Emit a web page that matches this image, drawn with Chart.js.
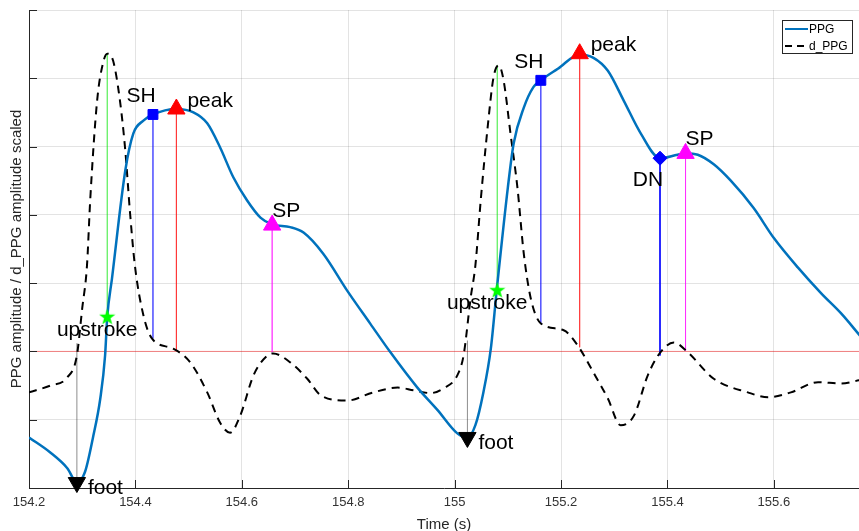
<!DOCTYPE html>
<html>
<head>
<meta charset="utf-8">
<script src="https://cdn.jsdelivr.net/npm/chart.js@4/dist/chart.umd.min.js"></script>
<style>
  html, body { margin: 0; padding: 0; background: #fff; overflow: hidden; }
  #wrap { width: 859px; height: 531px; position: relative; }
</style>
</head>
<body>
<div id="wrap"><canvas id="ppgChart"></canvas></div>
<script>
// Axis limits and ticks
const xMin = 154.2, xMax = 155.76, xStep = 0.2;
const yMin = -2, yMax = 5, yStep = 1;

// PPG signal
const ppgTime = [154.200, 154.240, 154.272, 154.290, 154.305, 154.320, 154.334, 154.343, 154.347, 154.356,
    154.381, 154.396, 154.415, 154.433, 154.477, 154.509, 154.535, 154.559, 154.584, 154.610,
    154.635, 154.657, 154.691, 154.716, 154.753, 154.798, 154.842, 154.879, 154.930, 154.968,
    155.005, 155.024, 155.039, 155.054, 155.068, 155.079, 155.100, 155.111, 155.130, 155.148,
    155.162, 155.194, 155.235, 155.261, 155.288, 155.318, 155.350, 155.386, 155.419, 155.434,
    155.457, 155.487, 155.519, 155.562, 155.600, 155.645, 155.689, 155.726, 155.762];
const ppgAmp = [-1.26, -1.48, -1.71, -1.92, -1.77, -1.27, -0.69, -0.06, 0.50, 1.07,
    2.65, 3.19, 3.38, 3.47, 3.55, 3.50, 3.34, 2.99, 2.55, 2.21,
    1.96, 1.86, 1.82, 1.74, 1.43, 0.89, 0.40, -0.01, -0.53, -0.86,
    -1.20, -1.26, -1.08, -0.60, 0.04, 0.89, 2.40, 3.05, 3.57, 3.87,
    3.97, 4.14, 4.35, 4.30, 4.11, 3.67, 3.19, 2.83, 2.88, 2.90,
    2.88, 2.74, 2.50, 2.10, 1.66, 1.23, 0.85, 0.56, 0.23];

// First derivative, scaled
const dppgTime = [154.200, 154.240, 154.272, 154.290, 154.300, 154.309, 154.315, 154.328, 154.339, 154.347,
    154.358, 154.371, 154.381, 154.390, 154.399, 154.415, 154.431, 154.471, 154.503, 154.535,
    154.559, 154.578, 154.597, 154.622, 154.648, 154.659, 154.691, 154.723, 154.748, 154.798,
    154.847, 154.893, 154.923, 154.955, 154.979, 155.005, 155.017, 155.030, 155.039, 155.049,
    155.062, 155.073, 155.083, 155.092, 155.105, 155.118, 155.130, 155.143, 155.162, 155.205,
    155.231, 155.261, 155.288, 155.312, 155.337, 155.363, 155.387, 155.412, 155.438, 155.487,
    155.551, 155.589, 155.632, 155.683, 155.726, 155.762];
const dppgAmp = [-0.60, -0.50, -0.38, -0.06, 0.63, 1.26, 2.21, 3.67, 4.22, 4.36,
    4.26, 3.67, 2.94, 2.02, 1.26, 0.53, 0.19, 0.04, -0.16, -0.60,
    -1.04, -1.19, -0.94, -0.35, -0.06, -0.03, -0.16, -0.40, -0.64, -0.72,
    -0.60, -0.53, -0.57, -0.61, -0.54, -0.35, -0.05, 0.78, 1.26, 2.21,
    3.28, 4.01, 4.19, 3.97, 3.19, 2.40, 1.43, 0.78, 0.41, 0.31,
    0.09, -0.31, -0.69, -1.08, -0.94, -0.35, -0.01, 0.13, -0.01, -0.40,
    -0.60, -0.67, -0.60, -0.45, -0.47, -0.42];

// Fiducial points: time, PPG value, d_PPG value at the end of the stem
const footT = [154.290, 155.024], footY = [-1.92, -1.26], footD = [0.12, 0.16];
const upT = [154.347, 155.080], upY = [0.50, 0.89], upD = [4.36, 4.19];
const shT = [154.433, 155.162], shY = [3.47, 3.97], shD = [0.19, 0.41];
const peakT = [154.477, 155.235], peakY = [3.55, 4.36], peakD = [0.01, 0.06];
const spT = [154.657, 155.434], spY = [1.85, 2.90], spD = [-0.01, 0.01];
const dnT = [155.386], dnY = [2.83], dnD = [-0.06];

function toPoints(xs, ys) {
    return xs.map((x, i) => ({ x: x, y: ys[i] }));
}

// vertical stems, broken with nulls
function stems(ts, a, b) {
    const out = [];
    ts.forEach((t, i) => {
        out.push({ x: t, y: a[i] }, { x: t, y: b[i] }, { x: t, y: null });
    });
    return out;
}

// filled 5 point star for the upstroke marker
function makeStar(size, color) {
    const c = document.createElement('canvas');
    c.width = size; c.height = size;
    const g = c.getContext('2d');
    const cx = size / 2, cy = size / 2, ro = size / 2, ri = ro * 0.4;
    g.beginPath();
    for (let k = 0; k < 10; k++) {
        const r = k % 2 === 0 ? ro : ri;
        const a = -Math.PI / 2 + k * Math.PI / 5;
        g.lineTo(cx + r * Math.cos(a), cy + r * Math.sin(a));
    }
    g.closePath();
    g.fillStyle = color;
    g.fill();
    return c;
}

function markerSet(label, ts, ys, style, color, radius, rot) {
    return {
        type: 'scatter', label: label, data: toPoints(ts, ys),
        pointStyle: style, pointRadius: radius, pointRotation: rot || 0,
        backgroundColor: color, borderColor: color, borderWidth: 1,
        showLine: false, order: 0, clip: false
    };
}

function stemSet(ts, a, b, color) {
    return {
        type: 'line', data: stems(ts, a, b), borderColor: color, borderWidth: 1,
        pointRadius: 0, spanGaps: false, tension: 0, order: 3
    };
}

// text next to each marker: dataset label, alignment, pixel offsets
const markerLabels = {
    'foot': { align: 'left', dx: 11, dy: 6 },
    'upstroke': { align: 'center', dx: -10, dy: 13 },
    'SH': { align: 'center', dx: -12, dy: -18 },
    'peak': { align: 'left', dx: 11, dy: -8 },
    'SP': { align: 'left', dx: 0, dy: -14 },
    'DN': { align: 'center', dx: -12, dy: 22 }
};

const labelPlugin = {
    id: 'markerText',
    afterDatasetsDraw(chart) {
        const ctx = chart.ctx;
        ctx.save();
        ctx.font = '21px "Liberation Sans", Arial, sans-serif';
        ctx.fillStyle = '#000';
        ctx.textBaseline = 'middle';
        chart.data.datasets.forEach((ds, i) => {
            const cfg = markerLabels[ds.label];
            if (!cfg) return;
            chart.getDatasetMeta(i).data.forEach(pt => {
                ctx.textAlign = cfg.align;
                ctx.fillText(ds.label, pt.x + cfg.dx, pt.y + cfg.dy);
            });
        });
        ctx.restore();
    }
};

// inward tick marks and the legend box
const framePlugin = {
    id: 'frame',
    afterDraw(chart) {
        const ctx = chart.ctx;
        const area = chart.chartArea;
        const xs = chart.scales.x, ys = chart.scales.y;
        ctx.save();
        ctx.strokeStyle = '#262626';
        ctx.lineWidth = 1;
        ctx.beginPath();
        ys.ticks.forEach(t => {
            const py = Math.round(ys.getPixelForValue(t.value)) + 0.5;
            ctx.moveTo(area.left, py); ctx.lineTo(area.left + 8, py);
        });
        xs.ticks.forEach(t => {
            const px = Math.round(xs.getPixelForValue(t.value)) + 0.5;
            ctx.moveTo(px, area.bottom); ctx.lineTo(px, area.bottom - 8);
        });
        ctx.stroke();

        // legend
        const bx = 782.5, by = 20.5, bw = 70, bh = 33;
        ctx.fillStyle = '#fff';
        ctx.fillRect(bx, by, bw, bh);
        ctx.strokeStyle = '#262626';
        ctx.strokeRect(bx, by, bw, bh);
        const entries = chart.data.datasets.filter(d => d.legendEntry);
        ctx.font = '12px "Liberation Sans", Arial, sans-serif';
        ctx.textBaseline = 'middle';
        ctx.textAlign = 'left';
        entries.forEach((d, k) => {
            const ly = 29 + k * 17;
            ctx.beginPath();
            ctx.strokeStyle = d.borderColor;
            ctx.lineWidth = 2;
            ctx.setLineDash(d.borderDash ? [7, 5] : []);
            ctx.moveTo(785, ly); ctx.lineTo(808, ly);
            ctx.stroke();
            ctx.setLineDash([]);
            ctx.fillStyle = '#000';
            ctx.fillText(d.label, 809, ly + 0.5);
        });
        ctx.restore();
    }
};

const axisFont = { family: '"Liberation Sans", Arial, sans-serif', size: 15, lineHeight: 0.8 };
const gridColor = 'rgba(0,0,0,0.11)';

new Chart(document.getElementById('ppgChart'), {
    type: 'line',
    data: {
        datasets: [
            markerSet('foot', footT, footY, 'triangle', '#000000', 10, 180),
            markerSet('upstroke', upT, upY, makeStar(17, '#00ff00'), '#00ff00', 8),
            markerSet('SH', shT, shY, 'rect', '#0000ff', 7),
            markerSet('peak', peakT, peakY, 'triangle', '#ff0000', 10),
            markerSet('SP', spT, spY, 'triangle', '#ff00ff', 10),
            markerSet('DN', dnT, dnY, 'rectRot', '#0000ff', 7),
            {
                label: 'PPG', legendEntry: true, data: toPoints(ppgTime, ppgAmp),
                borderColor: '#0072BD', borderWidth: 2.5, pointRadius: 0,
                cubicInterpolationMode: 'monotone', order: 1
            },
            {
                label: 'd_PPG', legendEntry: true, data: toPoints(dppgTime, dppgAmp),
                borderColor: '#000000', borderWidth: 2, borderDash: [8, 6], pointRadius: 0,
                cubicInterpolationMode: 'monotone', order: 2
            },
            stemSet(footT, footY, footD, 'rgba(0,0,0,0.45)'),
            stemSet(upT, upY, upD, 'rgba(0,230,0,0.8)'),
            stemSet(shT, shY, shD, 'rgba(0,0,255,0.45)'),
            stemSet(peakT, peakY, peakD, 'rgba(255,0,0,0.45)'),
            stemSet(spT, spY, spD, 'rgba(255,0,255,0.45)'),
            stemSet(dnT, dnY, dnD, 'rgba(0,0,255,0.9)'),
            {
                // zero line of d_PPG
                data: [{ x: xMin, y: 0 }, { x: xMax, y: 0 }],
                borderColor: 'rgba(255,0,0,0.45)', borderWidth: 1, pointRadius: 0, order: 4
            }
        ]
    },
    options: {
        responsive: true,
        maintainAspectRatio: false,
        animation: false,
        events: [],
        layout: { autoPadding: false, padding: { top: 10, right: 0, bottom: 0, left: 0 } },
        plugins: {
            legend: { display: false },
            tooltip: { enabled: false },
            title: { display: false }
        },
        scales: {
            x: {
                type: 'linear',
                min: xMin, max: xMax,
                border: { color: '#262626' },
                grid: { color: gridColor, drawTicks: false },
                ticks: {
                    stepSize: xStep, includeBounds: false, autoSkip: false, maxRotation: 0,
                    color: '#333', padding: 7,
                    font: { family: '"Liberation Sans", Arial, sans-serif', size: 13 },
                    callback: v => String(Math.round(v * 10) / 10)
                },
                title: { display: true, text: 'Time (s)', color: '#262626', font: axisFont, padding: { top: 0, bottom: 0 } },
                afterFit(scale) {
                    scale.height = 43;
                    scale.paddingLeft = 0;
                    scale.paddingRight = 0;
                }
            },
            y: {
                min: yMin, max: yMax,
                border: { color: '#262626' },
                grid: { color: gridColor, drawTicks: false },
                ticks: { stepSize: yStep, display: false },
                title: {
                    display: true, text: 'PPG amplitude / d_PPG amplitude scaled', color: '#262626',
                    font: axisFont, padding: { top: 11, bottom: 0 }
                },
                afterFit(scale) { scale.width = 29; }
            }
        }
    },
    plugins: [labelPlugin, framePlugin]
});
</script>
</body>
</html>
